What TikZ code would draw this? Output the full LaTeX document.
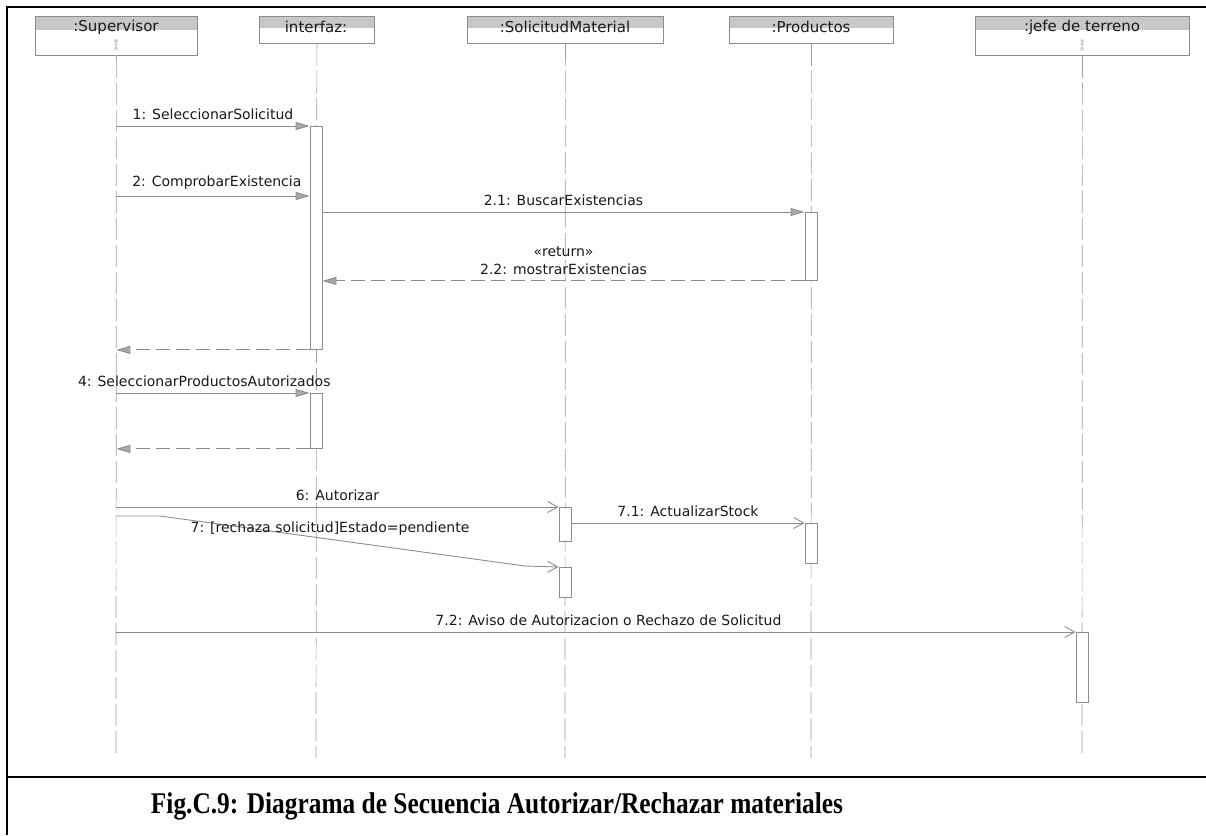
\documentclass[tikz,border=0pt]{standalone}
\usepackage{fontspec}
\setmainfont{Liberation Serif}
\newfontfamily\umlfont{DejaVu Sans}
\usetikzlibrary{arrows.meta}
\definecolor{ln}{HTML}{8C8C8C}
\definecolor{hd}{HTML}{C8C8C8}
\definecolor{lf}{HTML}{A0A0A0}
\begin{document}
\begin{tikzpicture}[x=1pt,y=-1pt,
  hdr/.style={draw=ln, line width=0.8pt, anchor=north west, inner sep=0pt},
  hname/.style={font=\umlfont\fontsize{15}{17}\selectfont, text=black!90, inner sep=0pt},
  life/.style={draw=lf, line width=0.7pt, dash pattern=on 22pt off 5pt},
  act/.style={draw=ln, fill=white, line width=0.9pt, anchor=north, minimum width=12pt, inner sep=0pt},
  sync/.style={draw=ln, line width=0.9pt, -{Triangle[length=14pt,width=8pt,fill=ln!75]}},
  ret/.style={draw=ln, line width=0.9pt, dash pattern=on 14pt off 6pt, -{Triangle[length=14pt,width=8pt,fill=ln!75]}},
  async/.style={draw=ln, line width=0.9pt, -{Straight Barb[length=10pt,width=11pt]}},
  lbl/.style={font=\umlfont\fontsize{14}{18}\selectfont, text=black!90, inner sep=1pt},
  frame/.style={draw=black, line width=2pt},
  icon/.style={draw=lf, line width=0.5pt}
]
\useasboundingbox (0,0) rectangle (1206,835);
% frame
\draw[frame] (7,835) -- (7,7) -- (1206,7);
\draw[frame] (7,777) -- (1206,777);

% headers
\fill[hd] (35,16) rectangle (197,30);
\node[hdr, minimum width=162pt, minimum height=39pt] (sup) at (35,16) {};
\node[hname] (supn) at (116,27) {:Supervisor};
\fill[hd] (259,16) rectangle (374,28);
\node[hdr, minimum width=115pt, minimum height=27pt] (itf) at (259,16) {};
\node[hname] (itfn) at (316,27) {interfaz:};
\fill[hd] (467,16) rectangle (663,28);
\node[hdr, minimum width=196pt, minimum height=27pt] (sol) at (467,16) {};
\node[hname] (soln) at (565,27) {:SolicitudMaterial};
\fill[hd] (729,16) rectangle (893,28);
\node[hdr, minimum width=164pt, minimum height=27pt] (pro) at (729,16) {};
\node[hname] (pron) at (811,27) {:Productos};
\fill[hd] (975,16) rectangle (1189,30);
\node[hdr, minimum width=214pt, minimum height=39pt] (jef) at (975,16) {};
\node[hname] (jefn) at (1082,27) {:jefe de terreno};

% small actor icons
\foreach \cx in {116,1082}{
  \draw[icon] (\cx,41) circle (1.4pt);
  \draw[icon] (\cx,42.5) -- (\cx,47) (\cx-2.2,44) -- (\cx+2.2,44) (\cx,47) -- (\cx-1.7,50.5) (\cx,47) -- (\cx+1.7,50.5);
}

% lifeline ends
\coordinate (supE) at (116,758);
\coordinate (itfE) at (316,758);
\coordinate (solE) at (565,758);
\coordinate (proE) at (811,758);
\coordinate (jefE) at (1082,758);
\draw[life] (sup.south) -- (supE);
\draw[life] (itf.south) -- (itfE);
\draw[life] (sol.south) -- (solE);
\draw[life] (pro.south) -- (proE);
\draw[life] (jef.south) -- (jefE);

% activation boxes
\node[act, minimum height=223pt] (a1) at (316,126) {};
\node[act, minimum height=55pt] (a2) at (316,393) {};
\node[act, minimum height=68pt] (p1) at (811,212) {};
\node[act, minimum height=40pt] (p2) at (811,523) {};
\node[act, minimum height=34pt] (s1) at (565,507) {};
\node[act, minimum height=30pt] (s2) at (565,567) {};
\node[act, minimum height=70pt] (j1) at (1082,632) {};

% message rows
\coordinate (m2) at (0,196);
\coordinate (m7a) at (160,516);
\coordinate (m7b) at (525,566);

% messages
\draw[sync] (a1.north west -| sup.south) -- (a1.north west)
  node[lbl, pos=0.5, above=5pt] (l1) {1: SeleccionarSolicitud};
\draw[sync] (m2 -| sup.south) -- (m2 -| a1.west)
  node[lbl, pos=0.52, above=5pt] (l2) {2: ComprobarExistencia};
\draw[sync] (p1.north west -| a1.east) -- (p1.north west)
  node[lbl, pos=0.5, above=5pt] (l21) {2.1: BuscarExistencias};
\draw[ret] (p1.south west) -- (p1.south west -| a1.east)
  node[lbl, pos=0.5, above=5pt, align=center] (l22) {«return»\\2.2: mostrarExistencias};
\draw[ret] (a1.south west) -- (a1.south west -| sup.south);
\draw[sync] (a2.north west -| sup.south) -- (a2.north west)
  node[lbl, pos=0.455, above=5pt] (l4) {4: SeleccionarProductosAutorizados};
\draw[ret] (a2.south west) -- (a2.south west -| sup.south);
\draw[async] (s1.north west -| sup.south) -- (s1.north west)
  node[lbl, pos=0.5, above=5pt] (l6) {6: Autorizar};
\draw[async] (m7a -| sup.south) -- (m7a) -- (m7b) -- (s2.north west);
\node[lbl] (l7) at (330,529) {7: [rechaza solicitud]Estado=pendiente};
\draw[async] (p2.north west -| s1.east) -- (p2.north west)
  node[lbl, pos=0.5, above=5pt] (l71) {7.1: ActualizarStock};
\draw[async] (j1.north west -| sup.south) -- (j1.north west)
  node[lbl, pos=0.513, above=5pt] (l72) {7.2: Aviso de Autorizacion o Rechazo de Solicitud};

% caption
\node[font=\bfseries\fontsize{30}{33}\selectfont, inner sep=0pt] (cap) at (497,806)
  {\scalebox{0.846}[1]{Fig.C.9: Diagrama de Secuencia Autorizar/Rechazar materiales}};
\end{tikzpicture}
\end{document}
